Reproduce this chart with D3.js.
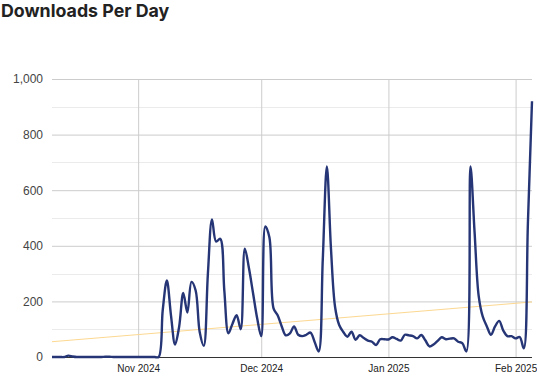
<!DOCTYPE html>
<html><head><meta charset="utf-8">
<script src="https://cdn.jsdelivr.net/npm/d3@7"></script>
<style>body{margin:0;background:#fff;}svg{display:block;}</style>
</head><body>
<script>
const startDate = "2024-10-11";
const downloads = [0,0,0,0,5,2,0,0,0,0,0,0,0,1,1,0,0,0,0,0,
0,0,0,0,0,0,0,170,275,150,45,110,230,160,270,240,90,40,300,495,
415,425,240,85,120,150,100,390,320,230,140,75,470,430,175,150,110,78,85,110,
80,75,80,88,55,20,350,685,390,180,115,90,73,91,62,78,68,59,55,43,
64,64,63,71,65,59,80,78,75,67,79,60,38,45,58,71,64,66,67,55,
50,20,685,450,220,145,110,80,110,130,95,75,75,67,72,31,480,920];
const trendValues = [55, 198];
const yTicks = [0,200,400,600,800,1000];
const yMinor = [100,300,500,700,900];
const monthTicks = ["2024-11-01","2024-12-01","2025-01-01","2025-02-01"];

const W=537,H=376, m={l:52,r:5,t:79,b:19};
const parse=d3.utcParse("%Y-%m-%d");
const t0=parse(startDate);
const data=downloads.map((v,i)=>({date:d3.utcDay.offset(t0,i),v}));
const svg=d3.select("body").append("svg").attr("width",W).attr("height",H);
const x=d3.scaleUtc().domain([data[0].date,data[data.length-1].date]).range([m.l,W-m.r]);
const y=d3.scaleLinear().domain([0,1000]).range([H-m.b,m.t]);

svg.append("text").attr("x",1).attr("y",17).text("Downloads Per Day")
 .attr("font-family","Inter, 'Liberation Sans', sans-serif").attr("font-weight","bold").attr("font-size",17.8).attr("fill","#222");

svg.append("g").selectAll("line").data(yMinor).join("line")
 .attr("x1",m.l).attr("x2",W-m.r).attr("y1",d=>Math.round(y(d))+0.5).attr("y2",d=>Math.round(y(d))+0.5)
 .attr("stroke","#ebebeb");
const yAxis=svg.append("g").attr("transform",`translate(${m.l},0)`)
 .call(d3.axisLeft(y).tickValues(yTicks).tickSize(-(W-m.r-m.l)).tickFormat(d3.format(",")));
yAxis.select(".domain").remove();
yAxis.selectAll(".tick line").attr("stroke","#cccccc");
yAxis.selectAll(".tick text").attr("x",-9).attr("font-family","Arial, 'Liberation Sans', sans-serif").attr("font-size",12).attr("fill","#444");
yAxis.selectAll(".tick").filter(d=>d===0).select("line").remove();

const xAxis=svg.append("g").attr("transform",`translate(0,${H-m.b})`)
 .call(d3.axisBottom(x).tickValues(monthTicks.map(parse)).tickSize(-(H-m.b-m.t)).tickFormat(d3.utcFormat("%b %Y")));
xAxis.select(".domain").remove();
xAxis.selectAll(".tick line").attr("stroke","#cccccc");
xAxis.selectAll(".tick text").attr("y",8).attr("font-family","Arial, 'Liberation Sans', sans-serif").attr("font-size",10).attr("fill","#222");

svg.append("line").attr("x1",m.l).attr("x2",W-m.r).attr("y1",y(0)+0.5).attr("y2",y(0)+0.5).attr("stroke","#333");

svg.append("line").attr("x1",x(data[0].date)).attr("x2",x(data[data.length-1].date))
 .attr("y1",y(trendValues[0])).attr("y2",y(trendValues[1])).attr("stroke","#fcd891").attr("stroke-width",1);

svg.append("path").datum(data)
 .attr("d",d3.line().x(d=>x(d.date)).y(d=>y(d.v)).curve(d3.curveCatmullRom.alpha(0.5)))
 .attr("fill","none").attr("stroke","#253575").attr("stroke-width",2.4);
</script>
</body></html>
